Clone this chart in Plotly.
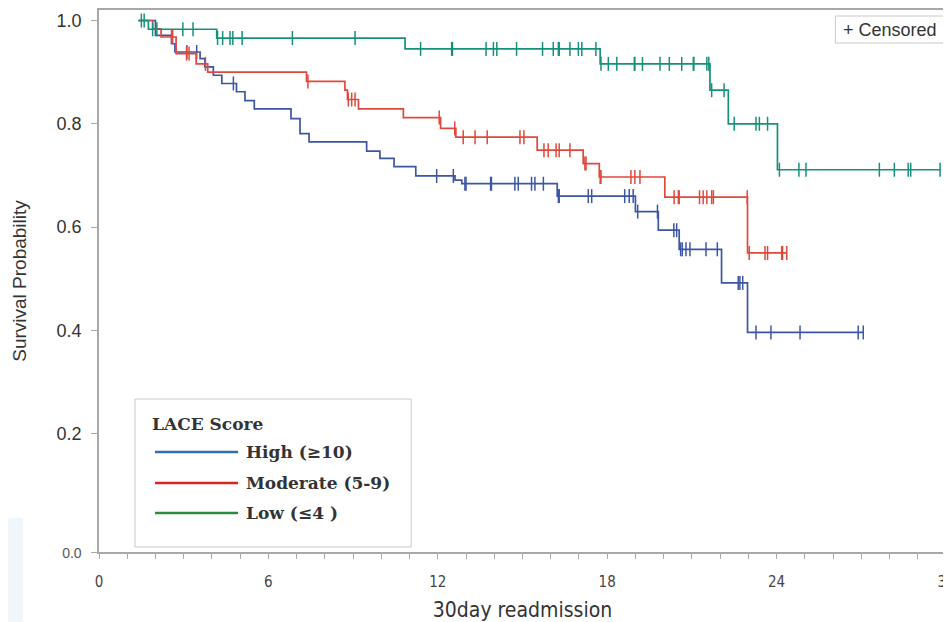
import numpy as np
import plotly.graph_objects as go

# ---------------- data ----------------
start_time = 1.4

high_times = [2.0, 2.57, 2.69, 3.58, 3.75, 4.05, 4.35, 4.87, 5.17, 5.50, 6.80, 7.12, 7.44,
              9.48, 9.95, 10.45, 11.22, 12.61, 12.85, 16.23, 19.0, 19.81, 20.55, 22.05, 22.97]
high_surv = [0.971, 0.955, 0.939, 0.926, 0.910, 0.894, 0.878, 0.862, 0.845, 0.829, 0.810, 0.781, 0.765,
             0.747, 0.733, 0.717, 0.699, 0.691, 0.684, 0.660, 0.630, 0.594, 0.557, 0.492, 0.396]
high_end = 27.07
high_censor = [3.11, 3.46, 4.76, 11.96, 12.55, 12.96, 13.0, 13.87, 13.90, 14.73, 14.85, 15.32, 15.44,
               15.74, 16.27, 16.30, 17.33, 17.45, 18.62, 18.78, 18.92, 19.08, 19.78, 20.36, 20.46,
               20.60, 20.66, 20.79, 20.93, 21.50, 21.90, 22.64, 22.70, 22.80, 23.27, 23.80, 24.83,
               26.89, 27.07]

mod_times = [1.9, 2.2, 2.73, 3.44, 3.85, 7.35, 8.71, 8.80, 9.19, 10.78, 12.10, 12.64, 15.52,
             17.15, 17.72, 20.04, 22.97]
mod_surv = [0.984, 0.968, 0.936, 0.916, 0.900, 0.882, 0.865, 0.847, 0.829, 0.812, 0.791, 0.774, 0.749,
            0.723, 0.697, 0.658, 0.550]
mod_end = 24.36
mod_censor = [2.57, 2.61, 3.10, 3.19, 3.77, 7.40, 8.83, 8.95, 9.07, 12.05, 12.60, 12.90, 13.32, 13.75,
              14.91, 15.05, 15.76, 15.91, 16.19, 16.30, 16.68, 17.21, 17.25, 17.75, 17.78, 18.84,
              18.98, 19.16, 20.37, 20.52, 20.55, 21.27, 21.40, 21.53, 21.70, 21.76, 22.96, 23.03,
              23.59, 23.68, 24.18, 24.21, 24.36]

low_times = [1.75, 4.17, 10.84, 17.75, 21.64, 22.29, 24.03]
low_surv = [0.983, 0.966, 0.945, 0.916, 0.865, 0.800, 0.711]
low_end = 29.79
low_censor = [1.50, 1.60, 1.90, 2.05, 2.97, 3.33, 4.20, 4.38, 4.64, 4.74, 5.07, 6.85, 9.07, 11.39,
              12.49, 12.52, 13.71, 13.97, 14.09, 14.79, 15.71, 16.09, 16.27, 16.30, 16.68, 16.98,
              17.10, 17.60, 17.78, 18.04, 18.34, 18.96, 18.98, 19.25, 19.87, 20.20, 20.64, 21.05,
              21.07, 21.53, 21.60, 21.70, 22.14, 22.50, 23.27, 23.39, 23.68, 24.10, 24.79, 25.04,
              27.64, 28.17, 28.66, 28.75, 29.79]

x_tick_vals = [0, 6, 12, 18, 24, 30]
y_tick_vals = [0.2, 0.4, 0.6, 0.8, 1.0]
y_tick_text = ["0.2", "0.4", "0.6", "0.8", "1.0"]
y_bottom = -0.029
y_top = 1.0203

legend_labels = ["High (\u226510)", "Moderate (5-9)", "Low (\u22644 )"]
curve_colors = ["#3d56a3", "#e0483c", "#17907b"]
legend_colors = ["#2f6db5", "#d42424", "#2e8a3c"]

groups = [
    (high_times, high_surv, high_end, high_censor),
    (mod_times, mod_surv, mod_end, mod_censor),
    (low_times, low_surv, low_end, low_censor),
]


def step_value(t, times, surv):
    idx = np.searchsorted(np.array(times), t, side="right") - 1
    return 1.0 if idx < 0 else surv[idx]


fig = go.Figure()
for (times, surv, end, cens), col, name in zip(groups, curve_colors, legend_labels):
    xs = [start_time] + list(times) + [end]
    ys = [1.0] + list(surv) + [surv[-1]]
    fig.add_trace(go.Scatter(x=xs, y=ys, mode="lines", line=dict(color=col, width=1.7, shape="hv"),
                             name=name, showlegend=False, hoverinfo="skip"))
    cy = [step_value(t, times, surv) for t in cens]
    fig.add_trace(go.Scatter(x=cens, y=cy, mode="markers", showlegend=False, hoverinfo="skip",
                             marker=dict(symbol="line-ns", size=10, line=dict(color=col, width=1.5))))

# ---------------- layout ----------------
# the page body adds an 8px offset; work in window pixels and convert
OFF = 8
W, H = 951 - OFF, 622 - OFF
L, R, T, B = 99 - OFF, 945.6 - OFF, 10 - OFF, 552 - OFF


def px2x(p):
    return (p - OFF - L) / (R - L)


def py2y(p):
    return (B - (p - OFF)) / (B - T)


shapes = []
annotations = []

# light artifact at lower-left
shapes.append(dict(type="rect", xref="paper", yref="paper", x0=px2x(8), x1=px2x(23), y0=py2y(622),
                   y1=py2y(518), fillcolor="#f1f6fb", line=dict(width=0), layer="below"))

# legend box
shapes.append(dict(type="rect", xref="paper", yref="paper", x0=px2x(135), x1=px2x(411), y0=py2y(547),
                   y1=py2y(399), fillcolor="white", line=dict(color="#c8c8c8", width=1)))
annotations.append(dict(xref="paper", yref="paper", x=px2x(150), y=py2y(424), xanchor="left",
                        yanchor="middle", showarrow=False, text="<b>LACE Score</b>",
                        font=dict(family="DejaVu Serif", size=17, color="#333333")))
for i, (lab, col) in enumerate(zip(legend_labels, legend_colors)):
    yy = [452, 483, 513][i]
    shapes.append(dict(type="line", xref="paper", yref="paper", x0=px2x(155), x1=px2x(238),
                       y0=py2y(yy), y1=py2y(yy), line=dict(color=col, width=2.5)))
    annotations.append(dict(xref="paper", yref="paper", x=px2x(244), y=py2y(yy), xanchor="left",
                            yanchor="middle", showarrow=False, text="<b>" + lab + "</b>",
                            font=dict(family="DejaVu Serif", size=17, color="#333333")))

# censored box
shapes.append(dict(type="rect", xref="paper", yref="paper", x0=px2x(835), x1=px2x(945), y0=py2y(43),
                   y1=py2y(16), fillcolor="white", line=dict(color="#c8c8c8", width=1)))
annotations.append(dict(xref="paper", yref="paper", x=px2x(890), y=py2y(29.5), xanchor="center",
                        yanchor="middle", showarrow=False, text="+ Censored",
                        font=dict(family="Liberation Sans, Arial, sans-serif", size=18, color="#333333")))

fig.update_layout(
    width=W, height=H,
    margin=dict(l=L, r=W - R, t=T, b=H - B, autoexpand=False),
    paper_bgcolor="white", plot_bgcolor="white",
    shapes=shapes, annotations=annotations,
    showlegend=False,
)

fig.update_xaxes(
    automargin=False,
    range=[0, 30], tickvals=x_tick_vals, ticktext=[str(v) for v in x_tick_vals],
    showgrid=False, zeroline=False, showline=True, linecolor="#a8a8a8", linewidth=1.5, mirror=True,
    ticks="outside", ticklen=5, tickcolor="#a8a8a8", tickwidth=1,
    minor=dict(dtick=1, tick0=0, ticks="outside", ticklen=5, tickcolor="#a8a8a8", tickwidth=1),
    tickfont=dict(family="Liberation Sans Narrow, DejaVu Sans Condensed, sans-serif", size=15, color="#444444"),
    ticklabelstandoff=10, ticklabeloverflow="allow",
    title=dict(text="30day readmission", standoff=14,
               font=dict(family="Liberation Sans Narrow, DejaVu Sans Condensed, sans-serif", size=21,
                         color="#333333")),
)

fig.update_yaxes(
    automargin=False,
    range=[y_bottom, y_top],
    tickvals=[y_bottom] + y_tick_vals,
    ticktext=["<span style='font-family:Liberation Sans Narrow, sans-serif;font-size:14px;fill:#555555'>0.0</span>"]
    + y_tick_text,
    showgrid=False, zeroline=False, showline=True, linecolor="#a8a8a8", linewidth=1.5,
    ticks="outside", ticklen=6, tickcolor="#a8a8a8", tickwidth=1,
    tickfont=dict(family="Liberation Sans, Arial, sans-serif", size=18, color="#333333"),
    ticklabelstandoff=6,
    title=dict(text="Survival Probability", standoff=25,
               font=dict(family="Liberation Sans, Arial, sans-serif", size=19, color="#333333")),
)

fig.write_html("out.html")
